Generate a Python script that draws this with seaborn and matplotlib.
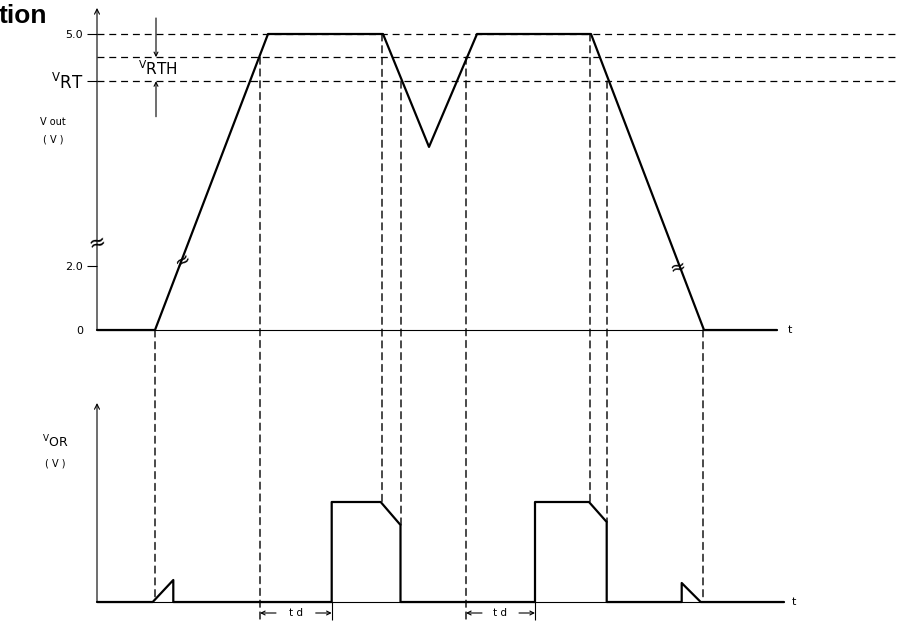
import numpy as np
import matplotlib
matplotlib.use("Agg")
import matplotlib.pyplot as plt
import seaborn as sns
from matplotlib.patches import ConnectionPatch
from matplotlib.ticker import NullLocator

# ---------------- data (time in arbitrary units, voltages) ----------------
vout_t = [0, 5.8, 17.1, 28.6, 33.2, 38.0, 49.4, 60.7, 68.0]
vout_v = [0, 0, 5.0, 5.0, 3.54, 5.0, 5.0, 0, 0]

vor_t = [0, 5.57, 7.63, 7.63, 23.47, 23.47, 28.37, 30.35, 30.35,
         43.8, 43.8, 49.2, 50.97, 50.97, 58.47, 58.47, 60.37, 68.7]
vor_v = [0, 0, 0.22, 0, 0, 1.0, 1.0, 0.77, 0,
         0, 1.0, 1.0, 0.80, 0, 0, 0.19, 0, 0]

v_full = 5.0
v_rth = 4.70
v_rt = 4.39
ytick_vals = [0, 2.0, v_rt, 5.0]
ytick_labels = ["0", "2.0", r"$\mathregular{^{V}RT}$", "5.0"]

# guide lines linking the two traces: time, Vout level, VOR level
guide_t = [5.8, 16.3, 28.5, 30.4, 36.9, 49.3, 51.0, 60.6]
guide_vout = [0, v_rth, v_full, v_rt, v_rth, v_full, v_rt, 0]
guide_vor = [0.02, -0.18, 1.0, 0.77, -0.18, 1.0, 0.80, 0.02]

td_spans = [(16.3, 23.47), (36.9, 43.8)]

# ---------------- style ----------------
sns.set_theme(style="ticks", rc={
    "text.color": "black", "axes.labelcolor": "black",
    "xtick.color": "black", "ytick.color": "black",
    "lines.dashed_pattern": [5, 3.5], "lines.scale_dashes": False,
})
plt.rcParams["font.family"] = ["DejaVu Sans"]

W, H = 901, 623
fig = plt.figure(figsize=(W / 100, H / 100), dpi=100)
ax_top = fig.add_axes([97 / W, 293 / H, 804 / W, 325 / H])
ax_bot = fig.add_axes([97 / W, 21 / H, 804 / W, 200 / H])


def fwd(v):
    v = np.asarray(v, dtype=float)
    return np.where(v < 2, v * 32.0, 64.0 + (v - 2.0) * 77.33)


def inv(u):
    u = np.asarray(u, dtype=float)
    return np.where(u < 64, u / 32.0, 2.0 + (u - 64.0) / 77.33)


# ---------------- top: Vout ----------------
sns.lineplot(x=vout_t, y=vout_v, ax=ax_top, sort=False, estimator=None,
             color="black", lw=1.6)
ax_top.set_yscale("function", functions=(fwd, inv))
ax_top.set_xlim(0, 80.4)
ax_top.set_ylim(0, 5.375)
ax_top.yaxis.set_minor_locator(NullLocator())
ax_top.set_xticks([])
ax_top.set_yticks(ytick_vals)
ax_top.set_yticklabels(ytick_labels)
ax_top.tick_params(axis="y", direction="out", length=7, width=0.8, pad=3,
                   labelsize=8)
for lab, val in zip(ax_top.get_yticklabels(), ytick_vals):
    if val == v_rt:
        lab.set_fontsize(12)
ax_top.yaxis.get_major_ticks()[0].tick1line.set_visible(False)

# baseline + threshold guides
ax_top.hlines(0, 0, vout_t[-1], color="black", lw=0.8, clip_on=False)
ax_top.hlines([v_full, v_rth, v_rt], 0, 80, color="black", lw=0.9,
              linestyles="--")
for ln in ax_top.lines:
    ln.set_clip_on(False)

# axis arrow
ax_top.annotate("", xy=(0, 0.991), xytext=(0, 0), xycoords="axes fraction",
                arrowprops=dict(arrowstyle="->", lw=0.8, color="black",
                                shrinkA=0, shrinkB=0, mutation_scale=9))
# VRTH dimension arrows
ax_top.annotate("", xy=(5.9, v_rth), xytext=(5.9, 5.207),
                arrowprops=dict(arrowstyle="->", lw=0.8, color="black",
                                shrinkA=0, shrinkB=0, mutation_scale=7),
                annotation_clip=False)
ax_top.annotate("", xy=(5.9, v_rt), xytext=(5.9, 3.93),
                arrowprops=dict(arrowstyle="->", lw=0.8, color="black",
                                shrinkA=0, shrinkB=0, mutation_scale=7),
                annotation_clip=False)
ax_top.text(6.1, 4.55, r"$\mathregular{^{V}RTH}$", ha="center", va="center",
            fontsize=11)

# labels
ax_top.text(-4.4, 3.86, "V out", ha="center", va="center", fontsize=7)
ax_top.text(-4.4, 3.63, "( V )", ha="center", va="center", fontsize=7)
ax_top.text(69.3, 0, "t", ha="center", va="center", fontsize=8)

# break marks
ax_top.text(0, 2.30, "≈", ha="center", va="center", fontsize=15, rotation=15)
ax_top.text(8.6, 2.08, "≈", ha="center", va="center", fontsize=14, rotation=35)
ax_top.text(58.1, 1.97, "≈", ha="center", va="center", fontsize=14, rotation=15)

# ---------------- bottom: VOR ----------------
sns.lineplot(x=vor_t, y=vor_v, ax=ax_bot, sort=False, estimator=None,
             color="black", lw=1.6)
ax_bot.set_xlim(0, 80.4)
ax_bot.set_ylim(0, 2.0)
ax_bot.set_xticks([])
ax_bot.set_yticks([])
for ln in ax_bot.lines:
    ln.set_clip_on(False)
ax_bot.hlines(0, 0, vor_t[-1], color="black", lw=0.8, clip_on=False)
ax_bot.annotate("", xy=(0, 0.995), xytext=(0, 0), xycoords="axes fraction",
                arrowprops=dict(arrowstyle="->", lw=0.8, color="black",
                                shrinkA=0, shrinkB=0, mutation_scale=9))
ax_bot.text(-4.2, 1.60, r"$\mathregular{^{V}OR}$", ha="center", va="center",
            fontsize=9)
ax_bot.text(-4.2, 1.39, "( V )", ha="center", va="center", fontsize=7)
ax_bot.text(69.7, 0, "t", ha="center", va="center", fontsize=8)

# td markers
ax_bot.vlines([vor_t[4], vor_t[9]], -0.18, 0, color="black", lw=0.8,
              clip_on=False)
for (a, b) in td_spans:
    yy = -0.11
    mid = (a + b) / 2
    ax_bot.annotate("", xy=(a, yy), xytext=(a + 1.6, yy),
                    arrowprops=dict(arrowstyle="->", lw=0.8, color="black",
                                    shrinkA=0, shrinkB=0, mutation_scale=7),
                    annotation_clip=False)
    ax_bot.annotate("", xy=(b, yy), xytext=(b - 1.6, yy),
                    arrowprops=dict(arrowstyle="->", lw=0.8, color="black",
                                    shrinkA=0, shrinkB=0, mutation_scale=7),
                    annotation_clip=False)
    ax_bot.text(mid, yy, "t d", ha="center", va="center", fontsize=7.5)

for ax in (ax_top, ax_bot):
    sns.despine(ax=ax, left=True, bottom=True)

# ---------------- guide lines spanning both panels ----------------
for t, va, vb in zip(guide_t, guide_vout, guide_vor):
    cp = ConnectionPatch(xyA=(t, va), coordsA=ax_top.transData,
                         xyB=(t, vb), coordsB=ax_bot.transData,
                         edgecolor="black", lw=1.0, linestyle="--")
    fig.add_artist(cp)

# cut-off title fragment
fig.text(-1 / W, (H - 23) / H, "tion", ha="left", va="baseline",
         fontsize=19, fontweight="bold", family=["Liberation Sans", "DejaVu Sans"])

fig.savefig("out.png", dpi=100)
